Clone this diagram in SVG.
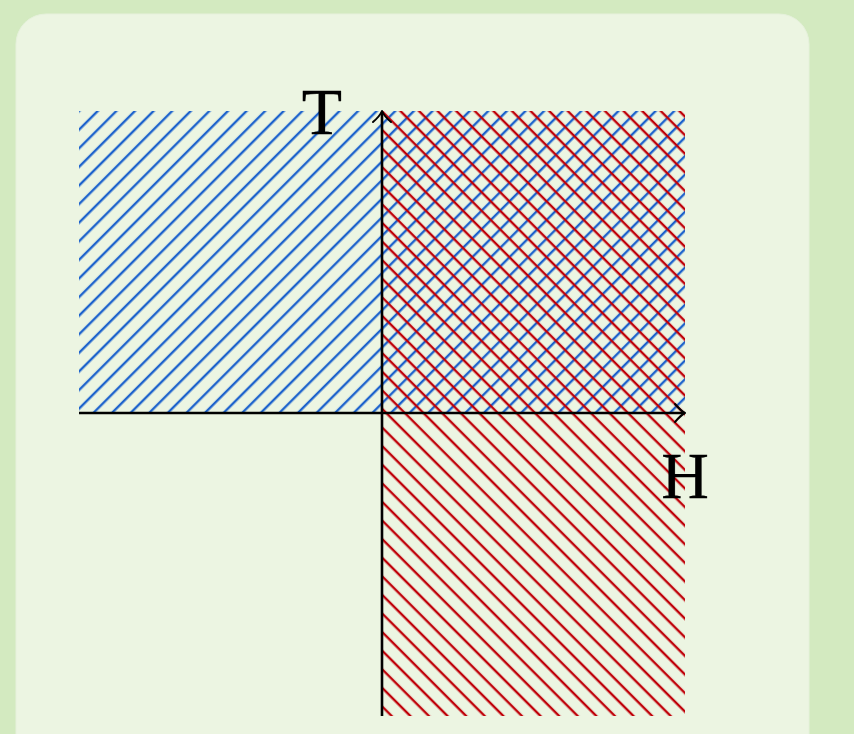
<svg xmlns="http://www.w3.org/2000/svg" width="854" height="734" viewBox="0 0 854 734">
<style>
.lbl{font-family:"Liberation Serif","Times New Roman",serif;font-size:66px;fill:#000;text-anchor:middle;stroke:#000;stroke-width:0.3}
.axis{stroke:#000;stroke-width:2.6;fill:none}
.tip{stroke:#000;stroke-width:2;fill:none;stroke-linecap:round;stroke-linejoin:round}
</style>
<defs>
<pattern id="blue" patternUnits="userSpaceOnUse" width="13.15" height="20" patternTransform="rotate(45)">
<line x1="2.95" y1="-1" x2="2.95" y2="21" stroke="#1c62cc" stroke-width="2.4"/>
</pattern>
<pattern id="red" patternUnits="userSpaceOnUse" width="13.15" height="20" patternTransform="rotate(-45)">
<line x1="7.4" y1="-1" x2="7.4" y2="21" stroke="#bf0008" stroke-width="2.4"/>
</pattern>
</defs>
<rect width="854" height="734" fill="#d3eac0"/>
<rect x="16" y="14" width="793" height="752" rx="30" fill="#ecf5e2" stroke="#e6f1dc" stroke-width="1"/>
<g id="blue-region">
<rect x="79" y="111" width="606" height="302" fill="url(#blue)"/>
</g>
<g id="red-region">
<rect x="382" y="111" width="303" height="605" fill="url(#red)"/>
</g>
<g id="connectors">
<line class="axis" x1="79" y1="413" x2="684" y2="413"/>
<path class="tip" d="M675,404 Q681,411 685,413 Q681,415 675,422"/>
<line class="axis" x1="382" y1="716" x2="382" y2="112"/>
<path class="tip" d="M373,122 Q380,116 382,111 Q384,116 391,122"/>
</g>
<g id="label-T"><text class="lbl" x="322" y="134">T</text></g>
<g id="label-H"><text class="lbl" x="685" y="498">H</text></g>
</svg>
